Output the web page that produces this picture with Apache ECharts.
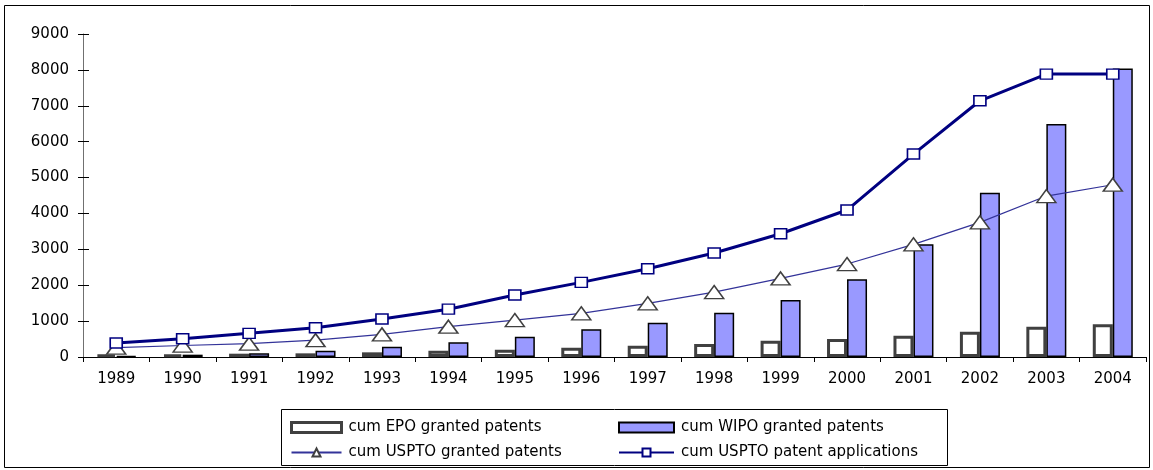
<!DOCTYPE html>
<html>
<head>
<meta charset="utf-8">
<script src="https://cdn.jsdelivr.net/npm/echarts@6/dist/echarts.min.js"></script>
<style>html,body{margin:0;padding:0;background:#fff}#c{width:1153px;height:470px}</style>
</head>
<body>
<div id="c"></div>
<script>
const years = ['1989','1990','1991','1992','1993','1994','1995','1996','1997','1998','1999','2000','2001','2002','2003','2004'];
const yTicks = [0,1000,2000,3000,4000,5000,6000,7000,8000,9000];
const epoGranted = [65,74,92,102,130,176,204,260,315,362,454,501,594,705,845,911];
const wipoGranted = [25,65,102,176,287,409,565,771,955,1234,1588,2164,3139,4577,6490,8040];
const usptoGranted = [260,320,370,470,630,845,1030,1217,1495,1810,2190,2590,3139,3752,4485,4800];
const usptoApplications = [390,510,660,816,1058,1333,1727,2080,2460,2897,3435,4095,5655,7139,7883,7883];

const FONT = '"DejaVu Sans", "Liberation Sans", Arial, sans-serif';
const chart = echarts.init(document.getElementById('c'), null, {renderer:'canvas'});
chart.setOption({
  animation: false,
  backgroundColor: '#fff',
  textStyle: {fontFamily: FONT},
  graphic: [
    {type:'rect', shape:{x:4.5,y:5.5,width:1145,height:462}, style:{fill:'none', stroke:'#000', lineWidth:1}, z:-1},
    {type:'rect', shape:{x:281.5,y:409.5,width:666,height:56}, style:{fill:'none', stroke:'#000', lineWidth:1}, z:-1}
  ],
  grid: {left:83, right:7, top:34, bottom:113},
  legend: [
    {orient:'vertical', left:285, top:415, itemWidth:50, itemHeight:10, itemGap:10,
     textStyle:{fontFamily:FONT, fontSize:15, color:'#000', padding:[0,0,0,2]},
     data:[{name:'cum EPO granted patents', icon:'rect', itemStyle:{borderWidth:3, borderColor:'#404040'}},
           {name:'cum USPTO granted patents'}]},
    {orient:'vertical', left:613, top:415, itemWidth:55, itemHeight:10, itemGap:10,
     textStyle:{fontFamily:FONT, fontSize:15, color:'#000', padding:[0,0,0,2]},
     data:[{name:'cum WIPO granted patents', icon:'rect'},
           {name:'cum USPTO patent applications'}]}
  ],
  xAxis: {
    type:'category', data: years, boundaryGap:true,
    axisLine:{lineStyle:{color:'#000', width:1}},
    axisTick:{show:true, alignWithLabel:false, length:5, lineStyle:{color:'#000'}},
    axisLabel:{color:'#000', fontSize:15, fontFamily:FONT, margin:15}
  },
  yAxis: [{
    type:'value', min:0, max:9000, interval:1000,
    axisLine:{show:true, lineStyle:{color:'#707070', width:1}},
    axisTick:{show:true, length:5, lineStyle:{color:'#000'}},
    axisLabel:{color:'#000', fontSize:15, fontFamily:FONT, margin:14,
      formatter: v => yTicks.includes(v) ? String(v) : ''},
    splitLine:{show:false}
  }, {
    type:'value', min:0, max:9000, interval:1000, position:'left',
    axisLine:{show:false},
    axisTick:{show:true, inside:true, length:6, lineStyle:{color:'#000'}},
    axisLabel:{show:false}, splitLine:{show:false}
  }],
  series: [
    {name:'cum EPO granted patents', type:'bar', data: epoGranted, barWidth:20, barGap:'0%',
     itemStyle:{color:'#fff', borderColor:'#404040', borderWidth:3}},
    {name:'cum WIPO granted patents', type:'bar', data: wipoGranted, barWidth:20, barCategoryGap:'40%',
     itemStyle:{color:'#9999FF', borderColor:'#000', borderWidth:1.5}},
    {name:'cum USPTO granted patents', type:'line', data: usptoGranted,
     symbol:'triangle', symbolSize:[19,13], showAllSymbol:true,
     lineStyle:{color:'#333399', width:1.2},
     itemStyle:{color:'#fff', borderColor:'#404040', borderWidth:1.5}, z:3},
    {name:'cum USPTO patent applications', type:'line', data: usptoApplications,
     symbol:'rect', symbolSize:[12,10], showAllSymbol:true,
     lineStyle:{color:'#000080', width:3},
     itemStyle:{color:'#fff', borderColor:'#000080', borderWidth:1.5}, z:4}
  ]
});
</script>
</body>
</html>
